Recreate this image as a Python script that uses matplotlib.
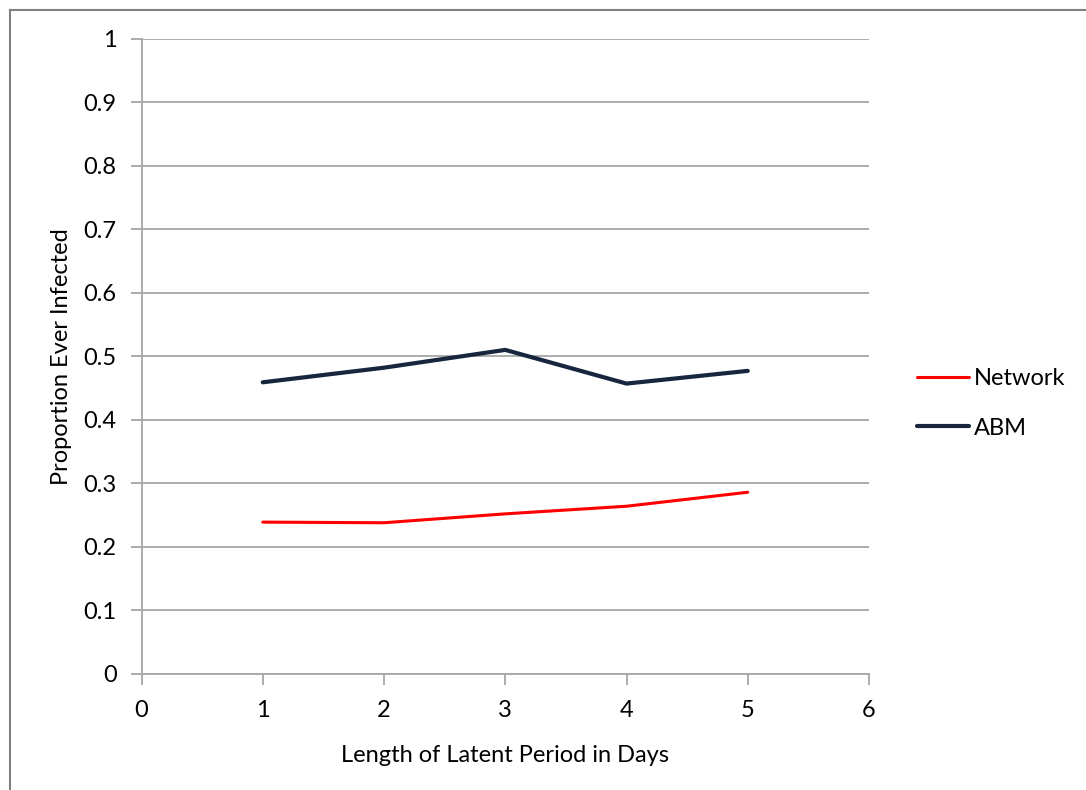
import matplotlib
matplotlib.use("Agg")
import matplotlib.pyplot as plt
from matplotlib.lines import Line2D

days = [1, 2, 3, 4, 5]
network = [0.239, 0.238, 0.252, 0.264, 0.286]
abm = [0.459, 0.482, 0.510, 0.457, 0.477]

plt.rcParams['font.family'] = ['Lato', 'DejaVu Sans']

fig = plt.figure(figsize=(10.86, 7.9), dpi=100)
ax = fig.add_axes([141.5 / 1086, 1 - 674 / 790, (869 - 141.5) / 1086, (674 - 38.5) / 790])

grid_col = '#a6a6a6'
fs = 17
ax.plot(days, network, color='#ff0000', lw=2.2, label='Network', solid_capstyle='round')
ax.plot(days, abm, color='#17253f', lw=3.0, label='ABM', solid_capstyle='round')

ax.set_xlim(0, 6)
ax.set_ylim(0, 1)
ax.set_xticks(range(7))
ax.set_yticks([i / 10 for i in range(11)])
ax.set_yticklabels(['0', '0.1', '0.2', '0.3', '0.4', '0.5', '0.6', '0.7', '0.8', '0.9', '1'])
ax.grid(axis='y', color=grid_col, lw=1.3)
ax.set_axisbelow(True)
for s in ['top', 'right']:
    ax.spines[s].set_visible(False)
for s in ['left', 'bottom']:
    ax.spines[s].set_color(grid_col)
    ax.spines[s].set_linewidth(1.3)
ax.tick_params(colors=grid_col, labelcolor='black', labelsize=fs, length=8, width=1.3)
ax.tick_params(axis='x', pad=11)
ax.tick_params(axis='y', pad=10)

ax.set_xlabel('Length of Latent Period in Days', fontsize=fs, labelpad=17)
ax.set_ylabel('Proportion Ever Infected', fontsize=fs, labelpad=8)

ax.legend(loc='center left', bbox_to_anchor=(917 / 1086, 1 - 403.5 / 790), bbox_transform=fig.transFigure,
          frameon=False, fontsize=fs, handlelength=2.2, handletextpad=0.2, labelspacing=1.2, borderpad=0,
          borderaxespad=0)

# outer chart frame (left and top edges visible)
frame_kw = dict(transform=fig.transFigure, color='#808080', lw=1.5)
fig.lines.append(Line2D([9.5 / 1086, 9.5 / 1086], [0, 1 - 9.5 / 790], **frame_kw))
fig.lines.append(Line2D([9.5 / 1086, 1], [1 - 9.5 / 790, 1 - 9.5 / 790], **frame_kw))

fig.savefig('out.png', dpi=100)
